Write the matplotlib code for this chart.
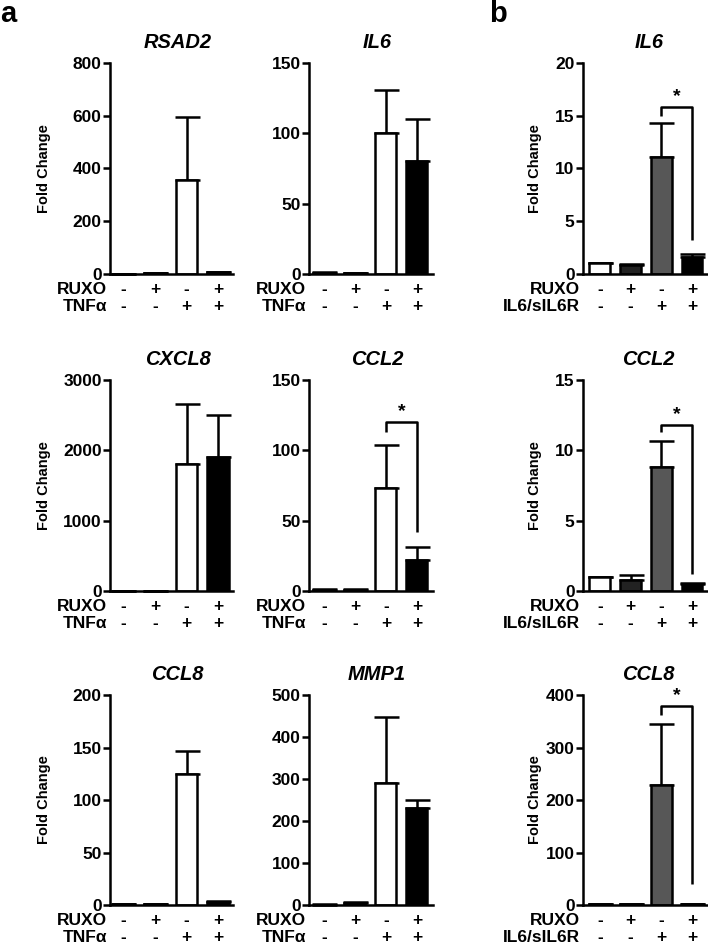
import matplotlib
matplotlib.use('Agg')
import matplotlib.pyplot as plt
from matplotlib.transforms import blended_transform_factory
import numpy as np

plt.rcParams['font.family'] = ['Liberation Sans', 'DejaVu Sans']
plt.rcParams['font.weight'] = 'bold'

# ---------------- data ----------------
ruxo_signs = ['-', '+', '-', '+']
tnf_signs = ['-', '-', '+', '+']
il6r_signs = ['-', '-', '+', '+']

# panel a (TNFα stimulation)
rsad2_mean = [1, 3, 358, 6]
rsad2_err = [0.5, 1, 237, 3]
rsad2_ticks = [0, 200, 400, 600, 800]

il6a_mean = [1, 0.8, 100, 80.5]
il6a_err = [0.3, 0.2, 31, 30]
il6a_ticks = [0, 50, 100, 150]

cxcl8_mean = [1, 1, 1810, 1910]
cxcl8_err = [0.5, 0.5, 850, 595]
cxcl8_ticks = [0, 1000, 2000, 3000]

ccl2a_mean = [1, 0.8, 73.5, 22]
ccl2a_err = [0.3, 0.3, 30.5, 9]
ccl2a_ticks = [0, 50, 100, 150]
ccl2a_sig = (2, 3, 120, 113, 42)

ccl8a_mean = [1, 0.8, 124.5, 3]
ccl8a_err = [0.3, 0.3, 22.5, 1]
ccl8a_ticks = [0, 50, 100, 150, 200]

mmp1_mean = [1, 5, 291, 232]
mmp1_err = [0.5, 2, 156, 19]
mmp1_ticks = [0, 100, 200, 300, 400, 500]

# panel b (IL6/sIL6R stimulation)
il6b_mean = [1.0, 0.85, 11.1, 1.6]
il6b_err = [0.0, 0.1, 3.2, 0.3]
il6b_ticks = [0, 5, 10, 15, 20]
il6b_sig = (2, 3, 15.8, 15.0, 3.2)

ccl2b_mean = [1.0, 0.78, 8.8, 0.5]
ccl2b_err = [0.0, 0.37, 1.85, 0.05]
ccl2b_ticks = [0, 5, 10, 15]
ccl2b_sig = (2, 3, 11.8, 11.3, 1.2)

ccl8b_mean = [1.5, 1.2, 228, 1.5]
ccl8b_err = [0.0, 0.3, 116, 0.3]
ccl8b_ticks = [0, 100, 200, 300, 400]
ccl8b_sig = (2, 3, 379, 362, 40)

colors_a = ['white', 'black', 'white', 'black']
colors_b = ['white', '#222222', '#575757', 'black']

# ---------------- figure ----------------
W, H = 708, 946
fig = plt.figure(figsize=(W / 100, H / 100), dpi=100)

LW = 1.8
ROW1 = -14.4   # baseline offsets (points) of the two condition rows
ROW2 = -26.6


def add_ax(left, right, top, bottom):
    return fig.add_axes([left / W, 1 - bottom / H, (right - left) / W, (bottom - top) / H])


def draw(ax, mean, err, colors, ticks, title, stim_label, stim_signs, xlim,
         ylabel=False, ylabel_x=-0.48, title_x=0.55, sig=None):
    x = np.arange(len(mean))
    ax.errorbar(x, mean, yerr=[np.zeros(len(err)), err], fmt='none', ecolor='black',
                elinewidth=LW, capsize=9, capthick=LW, zorder=1, clip_on=False)
    ax.bar(x, mean, width=0.68, color=colors, edgecolor='black', linewidth=LW, zorder=2)
    ax.set_xlim(*xlim)
    ax.set_ylim(0, ticks[-1])
    ax.set_yticks(ticks)
    ax.set_yticklabels([str(t) for t in ticks], fontsize=12.5, fontweight='bold')
    ax.set_xticks([])
    for s in ['top', 'right']:
        ax.spines[s].set_visible(False)
    for s in ['left', 'bottom']:
        ax.spines[s].set_linewidth(LW)
    ax.tick_params(axis='y', direction='out', length=5, width=LW, pad=1)
    t = ax.set_title(title, fontsize=14.5, fontstyle='italic', fontweight='bold', pad=11)
    t.set_x(title_x)
    if ylabel:
        ax.set_ylabel('Fold Change', fontsize=10.5, fontweight='bold')
        ax.yaxis.set_label_coords(ylabel_x, 0.5)
    trans = blended_transform_factory(ax.transData, ax.transAxes)
    for i in range(len(mean)):
        ax.annotate(ruxo_signs[i], xy=(i, 0), xycoords=trans, xytext=(0, ROW1),
                    textcoords='offset points', ha='center', va='baseline', fontsize=12.5)
        ax.annotate(stim_signs[i], xy=(i, 0), xycoords=trans, xytext=(0, ROW2),
                    textcoords='offset points', ha='center', va='baseline', fontsize=12.5)
    ax.annotate('RUXO', xy=(0, 0), xycoords='axes fraction', xytext=(-2, ROW1),
                textcoords='offset points', ha='right', va='baseline', fontsize=12.5)
    ax.annotate(stim_label, xy=(0, 0), xycoords='axes fraction', xytext=(-2, ROW2),
                textcoords='offset points', ha='right', va='baseline', fontsize=12.5)
    if sig is not None:
        i1, i2, ytop, yl, yr = sig
        ax.plot([i1, i1, i2, i2], [yl, ytop, ytop, yr], color='black', lw=LW,
                solid_capstyle='butt', zorder=3)
        ax.annotate('*', xy=((i1 + i2) / 2, ytop), xytext=(0, 1.5), textcoords='offset points',
                    ha='center', va='bottom', fontsize=14, fontweight='bold')


rows = [(63, 274), (380, 591), (695, 905)]
c1 = (110, 233)
c2 = (309, 433)
c3 = (583, 707)
xl1 = (-0.42, 3.47)
xl2 = (-0.48, 3.52)
xl3 = (-0.55, 3.49)

ax = add_ax(c1[0], c1[1], *rows[0])
draw(ax, rsad2_mean, rsad2_err, colors_a, rsad2_ticks, 'RSAD2', 'TNFα', tnf_signs, xl1, ylabel=True)
ax = add_ax(c2[0], c2[1], *rows[0])
draw(ax, il6a_mean, il6a_err, colors_a, il6a_ticks, 'IL6', 'TNFα', tnf_signs, xl2)
ax = add_ax(c1[0], c1[1], *rows[1])
draw(ax, cxcl8_mean, cxcl8_err, colors_a, cxcl8_ticks, 'CXCL8', 'TNFα', tnf_signs, xl1, ylabel=True)
ax = add_ax(c2[0], c2[1], *rows[1])
draw(ax, ccl2a_mean, ccl2a_err, colors_a, ccl2a_ticks, 'CCL2', 'TNFα', tnf_signs, xl2, sig=ccl2a_sig)
ax = add_ax(c1[0], c1[1], *rows[2])
draw(ax, ccl8a_mean, ccl8a_err, colors_a, ccl8a_ticks, 'CCL8', 'TNFα', tnf_signs, xl1, ylabel=True)
ax = add_ax(c2[0], c2[1], *rows[2])
draw(ax, mmp1_mean, mmp1_err, colors_a, mmp1_ticks, 'MMP1', 'TNFα', tnf_signs, xl2)

ax = add_ax(c3[0], c3[1], *rows[0])
draw(ax, il6b_mean, il6b_err, colors_b, il6b_ticks, 'IL6', 'IL6/sIL6R', il6r_signs, xl3,
     ylabel=True, ylabel_x=-0.33, title_x=0.53, sig=il6b_sig)
ax = add_ax(c3[0], c3[1], *rows[1])
draw(ax, ccl2b_mean, ccl2b_err, colors_b, ccl2b_ticks, 'CCL2', 'IL6/sIL6R', il6r_signs, xl3,
     ylabel=True, ylabel_x=-0.33, title_x=0.53, sig=ccl2b_sig)
ax = add_ax(c3[0], c3[1], *rows[2])
draw(ax, ccl8b_mean, ccl8b_err, colors_b, ccl8b_ticks, 'CCL8', 'IL6/sIL6R', il6r_signs, xl3,
     ylabel=True, ylabel_x=-0.33, title_x=0.53, sig=ccl8b_sig)

fig.text(0 / W, 1 - 0 / H, 'a', fontsize=21, fontweight='bold', ha='left', va='top')
fig.text(489 / W, 1 - 0 / H, 'b', fontsize=21, fontweight='bold', ha='left', va='top')

fig.savefig('out.png', dpi=100)
